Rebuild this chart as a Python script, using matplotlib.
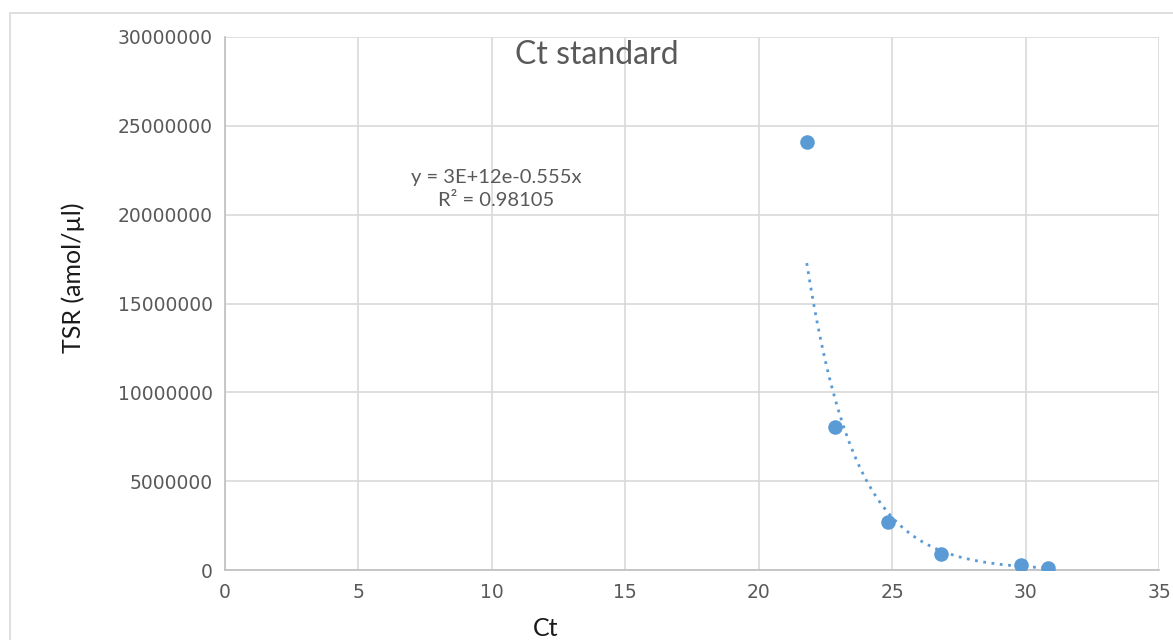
import numpy as np
import matplotlib.pyplot as plt
from matplotlib.patches import Rectangle

# data
ct = [21.8, 22.85, 24.84, 26.83, 29.82, 30.84]
tsr = [24090000, 8050000, 2700000, 900000, 280000, 110000]
eq_text = "y = 3E+12e-0.555x\nR\u00b2 = 0.98105"

# exponential trendline, fitted like Excel does (least squares on ln y)
b, ln_a = np.polyfit(ct, np.log(tsr), 1)
xs = np.linspace(min(ct), max(ct), 200)
ys = np.exp(ln_a) * np.exp(b * xs)

blue = "#5b9bd5"
grey_txt = "#595959"

fig = plt.figure(figsize=(11.73, 6.4), dpi=100)
ax = fig.add_axes([225 / 1173, 70 / 640, (1159 - 225) / 1173, (570 - 37) / 640])

# outer chart border (runs off the image on right and bottom)
fig.patches.append(Rectangle((10 / 1173, -0.1), 1.2, (640 - 13) / 640 + 0.1,
                             transform=fig.transFigure, fill=False,
                             edgecolor="#d9d9d9", linewidth=1.2))

ax.plot(xs, ys, linestyle=(0, (1, 2.0)), color=blue, linewidth=2.0, zorder=2)
ax.scatter(ct, tsr, s=110, color=blue, zorder=3, linewidths=0)

ax.set_xlim(0, 35)
ax.set_ylim(0, 30000000)
ax.set_xticks(range(0, 36, 5))
ax.set_yticks(range(0, 30000001, 5000000))
ax.yaxis.set_major_formatter(plt.FuncFormatter(lambda v, p: f"{int(v)}"))
ax.grid(True, color="#d9d9d9", linewidth=1.2)
ax.set_axisbelow(True)
for s in ["top", "right"]:
    ax.spines[s].set_visible(False)
for s in ["left", "bottom"]:
    ax.spines[s].set_color("#bfbfbf")
    ax.spines[s].set_linewidth(1.2)
ax.tick_params(length=0, labelsize=13.5, colors=grey_txt, pad=9)

# axis titles placed where Excel put them (not centred on the plot area)
fig.text(73 / 1173, 1 - 278 / 640, "TSR (amol/\u00b5l)", rotation=90,
         ha="center", va="center", fontsize=18, family="Lato", color="#1a1a1a")
fig.text(546 / 1173, 1 - 629 / 640, "Ct", ha="center", va="center",
         fontsize=18, family="Lato", color="#1a1a1a")

fig.text(597 / 1173, 1 - 55 / 640, "Ct standard", ha="center", va="center",
         fontsize=23, family="Lato", color=grey_txt)
fig.text(496 / 1173, 1 - 189 / 640, eq_text, ha="center", va="center",
         fontsize=14.5, family="Lato", color=grey_txt, linespacing=1.5)

fig.savefig("out.png", dpi=100)
